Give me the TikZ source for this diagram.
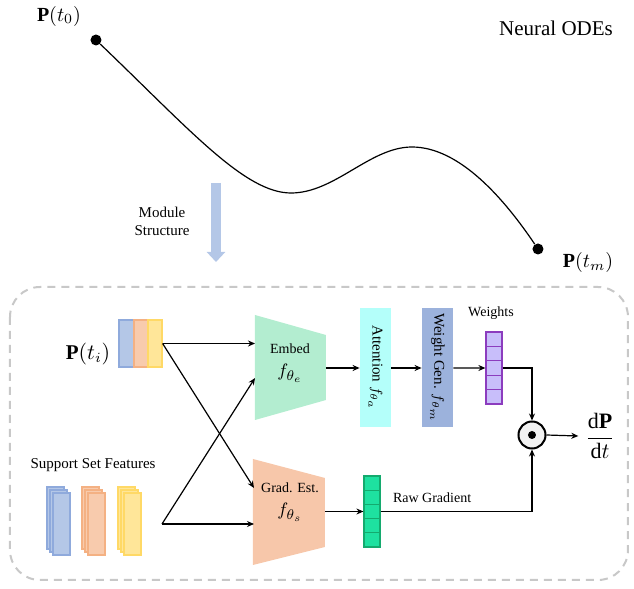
\documentclass[tikz,border=0pt]{standalone}
\usepackage{amsmath}
\usepackage{amssymb}
\usepackage{fontspec}
\setmainfont{Liberation Serif}
\usepackage{tikz}
\usetikzlibrary{arrows.meta,positioning}

\definecolor{qblue}{HTML}{B4C7E7}
\definecolor{qblueD}{HTML}{8FAADC}
\definecolor{qorange}{HTML}{F8CBAD}
\definecolor{qorangeD}{HTML}{F4B183}
\definecolor{qyellow}{HTML}{FFE699}
\definecolor{qyellowD}{HTML}{FFD966}
\definecolor{embedgreen}{HTML}{B3EDD0}
\definecolor{gradorange}{HTML}{F7C7AA}
\definecolor{attcyan}{HTML}{B4FFFA}
\definecolor{wgblue}{HTML}{9CB2DC}
\definecolor{wpurple}{HTML}{C8BEFA}
\definecolor{wpurpleD}{HTML}{8C3CBE}
\definecolor{rgreen}{HTML}{1EE1A0}
\definecolor{rgreenD}{HTML}{14AA6E}
\definecolor{framegray}{HTML}{C8C8C8}

\begin{document}
\begin{tikzpicture}[x=0.5pt, y=-0.5pt,
        arrow/.style={-{Stealth[length=3.5pt,width=3pt]}, line width=0.6pt},
        dot/.style={circle, fill=black, inner sep=0pt, minimum size=5.5pt},
        bar/.style={rectangle, inner sep=0pt, line width=0.6pt},
        cell/.style={rectangle, inner sep=0pt, line width=0.6pt, minimum width=8pt, minimum height=7.2pt},
        tallbox/.style={rectangle, inner sep=0pt, minimum width=15.5pt, minimum height=59.5pt},
        modarrow/.style={-{Triangle[length=5pt,width=9pt]}, line width=5pt, draw=qblue},
        frame/.style={draw=framegray, line width=1pt, dash pattern=on 4pt off 3pt, rounded corners=15pt},
        lbl/.style={font=\fontsize{7}{11.5}\selectfont, align=center}
    ]
        \useasboundingbox (0,0) rectangle (634,589);

        % Neural ODE trajectory
        \node[dot] (p0) at (96,40) {};
        \node[dot] (pm) at (538,249) {};
        \node[font=\fontsize{10}{12}\selectfont] (p0lab) at (59,16) {$\mathbf{P}(t_0)$};
        \node[font=\fontsize{10}{12}\selectfont] (pmlab) at (588,263) {$\mathbf{P}(t_m)$};
        \node[font=\fontsize{10.5}{12}\selectfont] (ode) at (556,28) {Neural ODEs};
        \draw[line width=0.6pt] (p0) .. controls (190,130) and (245,193) .. (291,193)
            .. controls (335,193) and (370,147) .. (412,147)
            .. controls (460,147) and (505,200) .. (pm);

        % Module arrow
        \coordinate (mtop) at (216,183);
        \coordinate (mbot) at (216,262);
        \draw[modarrow] (mtop) -- (mbot);
        \node[font=\fontsize{7.5}{9}\selectfont, align=center] (modlab) at (162,221) {Module\\Structure};

        % Module frame
        \draw[frame] (10,287) rectangle (628,580);

        % Query state
        \node[bar, fill=qblue, draw=qblueD, minimum width=7.5pt, minimum height=23.5pt] (pb) at (126.5,343.5) {};
        \node[bar, fill=qorange, draw=qorangeD, minimum width=7pt, minimum height=23.5pt] (po) at (141,343.5) {};
        \node[bar, fill=qyellow, draw=qyellowD, minimum width=7pt, minimum height=23.5pt] (py) at (155,343.5) {};
        \node[font=\fontsize{10.5}{12}\selectfont] (ptilab) at (88,354) {$\mathbf{P}(t_i)$};

        % Support set
        \node[font=\fontsize{7.5}{9}\selectfont] (sslab) at (93,465) {Support Set Features};
        \foreach \f/\d/\px in {qblue/qblueD/47, qorange/qorangeD/82, qyellow/qyellowD/118}
            \foreach \k in {0,1,2}
                \node[bar, fill=\f, draw=\d, minimum width=8.5pt, minimum height=31pt] (s\px\k) at ({\px+8.5+3*\k},{518+3*\k}) {};
        \coordinate (ss) at (162,524);

        % Embed
        \fill[embedgreen] (255,315) -- (326,335) -- (326,400) -- (255,420) -- cycle;
        \node[lbl] (embed) at (290,363) {Embed\\{\fontsize{9.5}{11.5}\selectfont$f_{\theta_e}$}};
        \coordinate (ein1) at (255,343.5);
        \coordinate (ein2) at (255,378);
        \coordinate (eout) at (326,368);

        % Grad. Est.
        \fill[gradorange] (253,459) -- (325,478) -- (325,547) -- (253,565) -- cycle;
        \node[lbl] (grad) at (290,502) {Grad. Est.\\{\fontsize{9.5}{11.5}\selectfont$f_{\theta_s}$}};
        \coordinate (gin1) at (254,488);
        \coordinate (gin2) at (254,524);
        \coordinate (gout) at (325,511.5);

        % Attention and weight generator
        \node[tallbox, fill=attcyan] (att) at (375.5,368) {};
        \node[rotate=-90, font=\fontsize{7.5}{9}\selectfont] (atttxt) at (att) {Attention $f_{\theta_a}$};
        \node[tallbox, fill=wgblue] (wg) at (437.5,368) {};
        \node[rotate=-90, font=\fontsize{7.5}{9}\selectfont] (wgtxt) at (wg) {Weight Gen. $f_{\theta_m}$};

        % Weights
        \foreach \k in {0,...,4}
            \node[cell, fill=wpurple, draw=wpurpleD] (w\k) at (494,{339.2+14.4*\k}) {};
        \node[font=\fontsize{7}{8}\selectfont] (wlab) at (491,313) {Weights};

        % Raw gradient
        \foreach \k in {0,...,4}
            \node[cell, fill=rgreen, draw=rgreenD, minimum height=7.1pt] (r\k) at (372,{483.1+14.2*\k}) {};
        \node[font=\fontsize{7}{8}\selectfont, anchor=west] (rlab) at (386,498) {Raw Gradient};

        % Product and output
        \node[circle, draw, line width=1pt, fill=gray!10, minimum size=13.5pt, inner sep=0pt] (prod) at (532,435) {};
        \fill (prod.center) circle (2pt);
        \node[font=\fontsize{11}{13}\selectfont] (dpdt) at (600,436) {$\dfrac{\mathrm{d}\mathbf{P}}{\mathrm{d}t}$};

        % Arrows
        \draw[arrow] (py.east) -- (ein1);
        \draw[arrow] (py.east) -- (gin1);
        \draw[arrow] (ss) -- (ein2);
        \draw[arrow] (ss) -- (gin2);
        \draw[arrow] (eout) -- (att.west);
        \draw[arrow] (att.east) -- (wg.west);
        \draw[arrow] (wg.east) -- (w2.west);
        \draw[arrow] (w2.east) -| (prod.north);
        \draw[arrow] (gout) -- (r2.west);
        \draw[arrow] (r2.east) -| (prod.south);
        \draw[arrow] (prod.east) -- (dpdt.west);
    \end{tikzpicture}
\end{document}
